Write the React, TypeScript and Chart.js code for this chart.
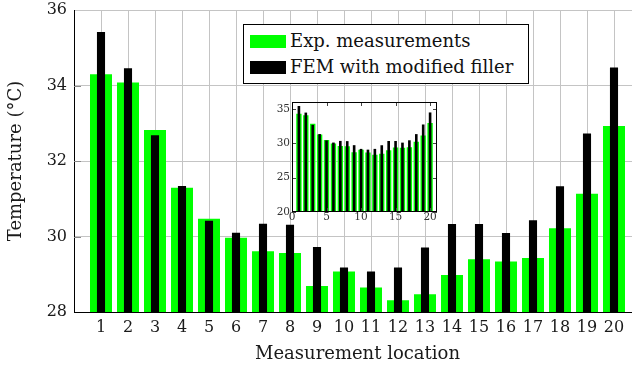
import React, { useEffect, useRef } from 'react';
import { Chart, registerables } from 'chart.js';

Chart.register(...registerables);

// ---- data ----
const locations = [1, 2, 3, 4, 5, 6, 7, 8, 9, 10, 11, 12, 13, 14, 15, 16, 17, 18, 19, 20];
const expMeasurements = [34.3, 34.08, 32.82, 31.29, 30.47, 29.97, 29.61, 29.56, 28.69, 29.07, 28.65, 28.31, 28.47, 28.98, 29.4, 29.34, 29.43, 30.22, 31.13, 32.93];
const femModifiedFiller = [35.42, 34.46, 32.68, 31.34, 30.42, 30.1, 30.34, 30.31, 29.72, 29.18, 29.07, 29.18, 29.71, 30.33, 30.33, 30.09, 30.43, 31.33, 32.73, 34.48];
const mainYTicks = [28, 30, 32, 34, 36];
const insetXTicks = [0, 5, 10, 15, 20];
const insetYTicks = [20, 25, 30, 35];
const seriesNames = ['Exp. measurements', 'FEM with modified filler'];
const xTitle = 'Measurement location';
const yTitle = 'Temperature (°C)';

const FONT = "'DejaVu Serif', serif";
const GREEN = '#00ff00';
const BLACK = '#000000';

const toPoints = (vals: number[]) => vals.map((v, i) => ({ x: locations[i], y: v }));

const fixSize = (w: number | null, h: number | null) => (s: any) => {
  if (w !== null) s.width = w;
  if (h !== null) s.height = h;
  s.paddingTop = 0;
  s.paddingBottom = 0;
  s.paddingLeft = 0;
  s.paddingRight = 0;
};

export default function App() {
  const mainRef = useRef<HTMLCanvasElement>(null);
  const insetRef = useRef<HTMLCanvasElement>(null);

  useEffect(() => {
    document.body.style.margin = '0';

    const innerTicksMain = {
      id: 'innerTicksMain',
      afterDraw(chart: any) {
        const { ctx, chartArea } = chart;
        const ys = chart.scales.y;
        ctx.save();
        ctx.strokeStyle = '#8a8a8a';
        ctx.lineWidth = 1;
        mainYTicks.forEach((v) => {
          if (v === mainYTicks[0] || v === mainYTicks[mainYTicks.length - 1]) return;
          const py = Math.round(ys.getPixelForValue(v)) + 0.5;
          ctx.beginPath();
          ctx.moveTo(chartArea.left, py);
          ctx.lineTo(chartArea.left + 7, py);
          ctx.stroke();
        });
        ctx.restore();
      },
    };

    const main = new Chart(mainRef.current!, {
      type: 'bar',
      data: {
        datasets: [
          {
            label: seriesNames[0],
            data: toPoints(expMeasurements),
            backgroundColor: GREEN,
            borderWidth: 0,
            barPercentage: 0.815,
            categoryPercentage: 1,
            grouped: false,
            order: 2,
          } as any,
          {
            label: seriesNames[1],
            data: toPoints(femModifiedFiller),
            backgroundColor: BLACK,
            borderWidth: 0,
            barPercentage: 0.3,
            categoryPercentage: 1,
            grouped: false,
            order: 1,
          } as any,
        ],
      },
      options: {
        responsive: false,
        animation: false,
        devicePixelRatio: 1,
        layout: { padding: { top: 10, right: 1, left: 0, bottom: 0 } },
        plugins: { legend: { display: false }, tooltip: { enabled: false } },
        scales: {
          x: {
            type: 'linear',
            min: 0,
            max: 21,
            offset: false,
            afterFit: fixSize(null, 57),
            afterBuildTicks: (s: any) => { s.ticks = locations.map((v) => ({ value: v })); },
            grid: { color: '#c4c4c4', lineWidth: 1, drawTicks: false, offset: false },
            border: { color: '#000', width: 1 },
            ticks: {
              autoSkip: false,
              maxRotation: 0,
              padding: 6,
              color: '#1a1a1a',
              font: { family: FONT, size: 16 },
            },
            title: {
              display: true,
              text: xTitle,
              color: '#1a1a1a',
              font: { family: FONT, size: 18 },
              padding: { top: 0, bottom: 4 },
            },
          },
          y: {
            type: 'linear',
            min: 28,
            max: 36,
            afterFit: fixSize(74, null),
            afterBuildTicks: (s: any) => { s.ticks = mainYTicks.map((v) => ({ value: v })); },
            grid: { color: '#c4c4c4', lineWidth: 1, drawTicks: false },
            border: { color: '#000', width: 1 },
            ticks: {
              padding: 7,
              color: '#1a1a1a',
              font: { family: FONT, size: 16 },
            },
            title: {
              display: true,
              text: yTitle,
              color: '#1a1a1a',
              font: { family: FONT, size: 18 },
              padding: { top: 6, bottom: 0 },
            },
          },
        },
      } as any,
      plugins: [innerTicksMain],
    });

    const insetFrame = {
      id: 'insetFrame',
      afterDatasetsDraw(chart: any) {
        const { ctx, chartArea } = chart;
        const xs = chart.scales.x;
        const ys = chart.scales.y;
        ctx.save();
        ctx.strokeStyle = '#444';
        ctx.lineWidth = 1;
        insetXTicks.forEach((v) => {
          const px = Math.round(xs.getPixelForValue(v)) + 0.5;
          ctx.beginPath();
          ctx.moveTo(px, chartArea.top);
          ctx.lineTo(px, chartArea.top + 4);
          ctx.moveTo(px, chartArea.bottom);
          ctx.lineTo(px, chartArea.bottom - 4);
          ctx.stroke();
        });
        insetYTicks.forEach((v) => {
          const py = Math.round(ys.getPixelForValue(v)) + 0.5;
          ctx.beginPath();
          ctx.moveTo(chartArea.left, py);
          ctx.lineTo(chartArea.left + 4, py);
          ctx.moveTo(chartArea.right, py);
          ctx.lineTo(chartArea.right - 4, py);
          ctx.stroke();
        });
        ctx.strokeStyle = '#000';
        ctx.strokeRect(
          Math.round(chartArea.left) + 0.5,
          Math.round(chartArea.top) + 0.5,
          Math.round(chartArea.right - chartArea.left) - 1,
          Math.round(chartArea.bottom - chartArea.top) - 1
        );
        ctx.restore();
      },
    };

    const inset = new Chart(insetRef.current!, {
      type: 'bar',
      data: {
        datasets: [
          {
            label: seriesNames[0],
            data: toPoints(expMeasurements),
            backgroundColor: GREEN,
            borderWidth: 0,
            barPercentage: 0.78,
            categoryPercentage: 1,
            grouped: false,
            order: 2,
          } as any,
          {
            label: seriesNames[1],
            data: toPoints(femModifiedFiller),
            backgroundColor: BLACK,
            borderWidth: 0,
            barPercentage: 0.38,
            categoryPercentage: 1,
            grouped: false,
            order: 1,
          } as any,
        ],
      },
      options: {
        responsive: false,
        animation: false,
        devicePixelRatio: 1,
        layout: { padding: { top: 7, right: 10, left: 0, bottom: 0 } },
        plugins: { legend: { display: false }, tooltip: { enabled: false } },
        scales: {
          x: {
            type: 'linear',
            min: 0,
            max: 21,
            offset: false,
            afterFit: fixSize(null, 13),
            afterBuildTicks: (s: any) => { s.ticks = insetXTicks.map((v) => ({ value: v })); },
            grid: { display: false, drawTicks: false, offset: false },
            border: { display: false },
            ticks: {
              autoSkip: false,
              maxRotation: 0,
              padding: 0,
              color: '#333',
              font: { family: FONT, size: 10.5, lineHeight: 1 },
            },
          },
          y: {
            type: 'linear',
            min: 20,
            max: 36,
            afterFit: fixSize(30, null),
            afterBuildTicks: (s: any) => { s.ticks = insetYTicks.map((v) => ({ value: v })); },
            grid: { display: false, drawTicks: false },
            border: { display: false },
            ticks: {
              padding: 2,
              color: '#333',
              font: { family: FONT, size: 10.5, lineHeight: 1 },
            },
          },
        },
      } as any,
      plugins: [insetFrame],
    });

    return () => {
      main.destroy();
      inset.destroy();
    };
  }, []);

  const textStyle: React.CSSProperties = {
    position: 'absolute',
    left: 46,
    fontFamily: FONT,
    fontSize: 18,
    lineHeight: '20px',
    color: '#111',
    whiteSpace: 'nowrap',
  };

  return (
    <div style={{ position: 'fixed', left: 0, top: 0, width: 632, height: 369, overflow: 'hidden', background: '#fff' }}>
      <canvas ref={mainRef} width={642} height={369} style={{ position: 'absolute', left: 0, top: 0 }} />
      <canvas ref={insetRef} width={185} height={130} style={{ position: 'absolute', left: 262, top: 95 }} />
      <div
        style={{
          position: 'absolute',
          left: 243,
          top: 24,
          width: 286,
          height: 60,
          boxSizing: 'border-box',
          border: '1px solid #000',
          background: '#fff',
        }}
      >
        <div style={{ position: 'absolute', left: 6, top: 10, width: 36, height: 13, background: GREEN }} />
        <div style={{ ...textStyle, top: 6 }}>{seriesNames[0]}</div>
        <div style={{ position: 'absolute', left: 6, top: 36, width: 36, height: 13, background: BLACK }} />
        <div style={{ ...textStyle, top: 32 }}>{seriesNames[1]}</div>
      </div>
    </div>
  );
}
